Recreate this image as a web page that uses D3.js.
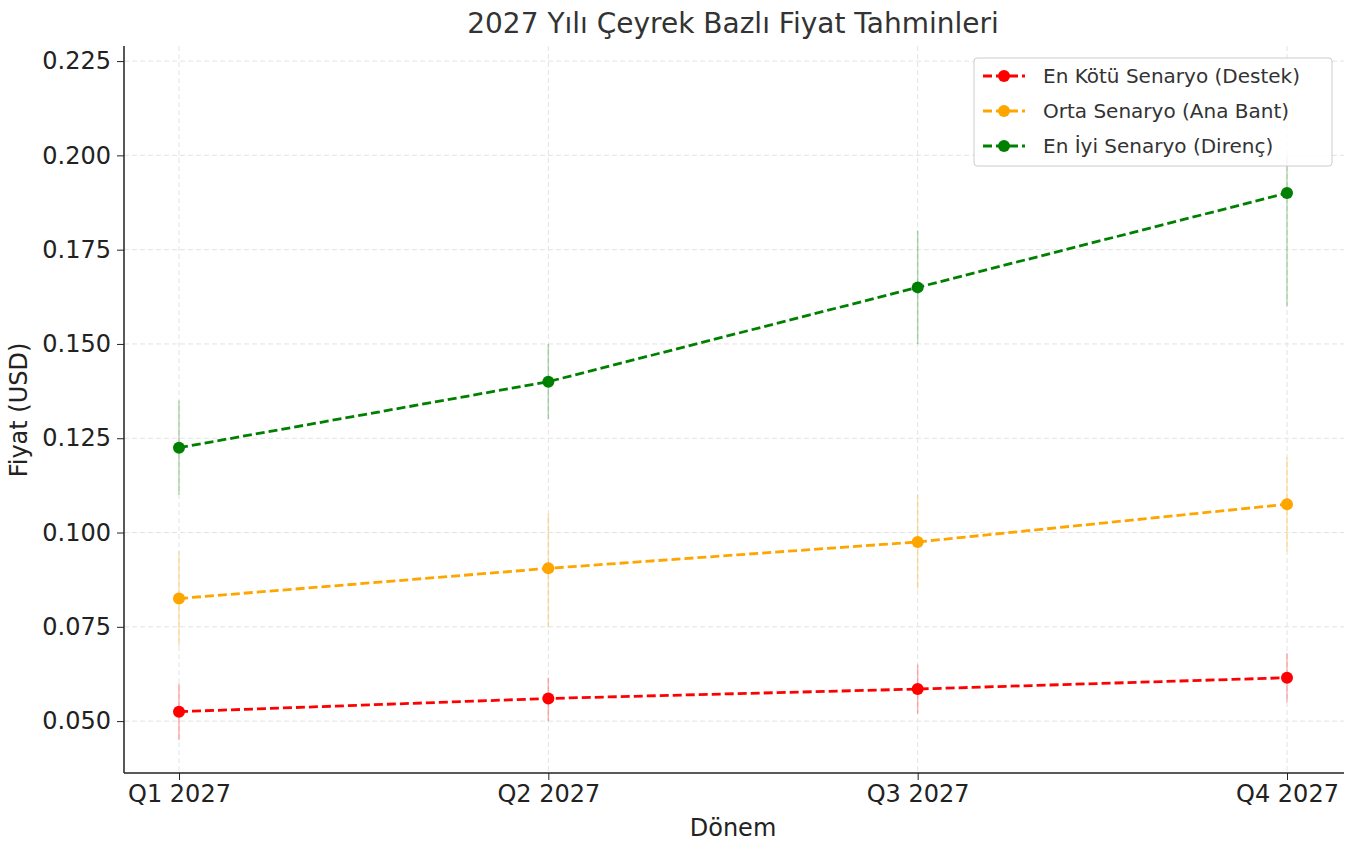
<!DOCTYPE html>
<html><head><meta charset="utf-8">
<script src="https://cdn.jsdelivr.net/npm/d3@7"></script>
<style>body{margin:0;background:#fff;font-family:"DejaVu Sans",sans-serif;}</style>
</head><body><div class="d3"></div>
<script>
var categories = ["Q1 2027", "Q2 2027", "Q3 2027", "Q4 2027"];
var seriesNames = ["En Kötü Senaryo (Destek)", "Orta Senaryo (Ana Bant)", "En İyi Senaryo (Direnç)"];
var seriesColors = ["#ff0000", "#ffa500", "#008000"];
var worstVals = [0.0525, 0.056, 0.0585, 0.0615];
var worstLow = [0.045, 0.050, 0.052, 0.055];
var worstHigh = [0.060, 0.0615, 0.065, 0.068];
var midVals = [0.0825, 0.0905, 0.0975, 0.1075];
var midLow = [0.070, 0.075, 0.085, 0.095];
var midHigh = [0.095, 0.105, 0.110, 0.120];
var bestVals = [0.1225, 0.140, 0.165, 0.190];
var bestLow = [0.110, 0.130, 0.150, 0.160];
var bestHigh = [0.135, 0.150, 0.180, 0.200];
var yTicks = [0.050, 0.075, 0.100, 0.125, 0.150, 0.175, 0.200, 0.225];

var series = [
  {vals: worstVals, lo: worstLow, hi: worstHigh},
  {vals: midVals, lo: midLow, hi: midHigh},
  {vals: bestVals, lo: bestLow, hi: bestHigh}
];

var margin = {top: 46, right: 11, bottom: 74, left: 124},
    width = 1355 - margin.left - margin.right,
    height = 847 - margin.top - margin.bottom;

var x = d3.scalePoint().domain(categories).range([55, 1163]);
var y = d3.scaleLinear().domain([0.03624, 0.2290]).range([height, 0]);

var svg = d3.select(".d3").append("svg")
    .attr("width", 1355).attr("height", 847);
var g = svg.append("g").attr("transform", "translate(" + margin.left + "," + margin.top + ")");

svg.append("text").attr("x", 733).attr("y", 33).attr("text-anchor", "middle")
    .attr("font-size", 28).attr("fill", "#333").text("2027 Yılı Çeyrek Bazlı Fiyat Tahminleri");

// grid
g.selectAll(".gy").data(yTicks).enter().append("line")
    .attr("x1", 0).attr("x2", width).attr("y1", d => y(d)).attr("y2", d => y(d))
    .attr("stroke", "#e3e3e3").attr("stroke-dasharray", "5,3");
g.selectAll(".gx").data(categories).enter().append("line")
    .attr("x1", d => x(d)).attr("x2", d => x(d)).attr("y1", 0).attr("y2", height)
    .attr("stroke", "#e3e3e3").attr("stroke-dasharray", "5,3");

var yAxis = g.append("g").call(d3.axisLeft(y).tickValues(yTicks).tickFormat(d3.format(".3f")).tickSize(7).tickPadding(6));
var xAxis = g.append("g").attr("transform", "translate(0," + height + ")")
    .call(d3.axisBottom(x).tickSize(7).tickPadding(5));
[xAxis, yAxis].forEach(function(a){
  a.selectAll("text").attr("font-size", 24).attr("fill", "#222").style("font-family", "DejaVu Sans");
  a.select(".domain").attr("stroke", "#222").attr("stroke-width", 1.5);
  a.selectAll(".tick line").attr("stroke", "#222");
});
// remove extra path end caps of domain
xAxis.select(".domain").attr("d", "M0,0H" + width);
yAxis.select(".domain").attr("d", "M0,0V" + height);

series.forEach(function(s, si){
  var c = seriesColors[si];
  g.selectAll(".eb" + si).data(categories).enter().append("line")
    .attr("x1", d => x(d)).attr("x2", d => x(d))
    .attr("y1", (d, i) => y(s.lo[i])).attr("y2", (d, i) => y(s.hi[i]))
    .attr("stroke", c).attr("stroke-opacity", 0.3).attr("stroke-width", 1.5);
  var line = d3.line().x((d, i) => x(categories[i])).y(d => y(d));
  g.append("path").attr("d", line(s.vals)).attr("fill", "none")
    .attr("stroke", c).attr("stroke-width", 2.8).attr("stroke-dasharray", "9,4");
  g.selectAll(".pt" + si).data(s.vals).enter().append("circle")
    .attr("cx", (d, i) => x(categories[i])).attr("cy", d => y(d)).attr("r", 6).attr("fill", c);
});

axisLabels();
function axisLabels(){
  svg.append("text").attr("x", 733).attr("y", 836).attr("text-anchor", "middle")
    .attr("font-size", 24).attr("fill", "#222").text("Dönem");
  svg.append("text").attr("transform", "translate(27,410) rotate(-90)").attr("text-anchor", "middle")
    .attr("font-size", 24).attr("fill", "#222").text("Fiyat (USD)");
}

// legend
var lg = svg.append("g").attr("transform", "translate(974,58)");
lg.append("rect").attr("width", 358).attr("height", 108).attr("rx", 3)
  .attr("fill", "#fff").attr("fill-opacity", 0.85).attr("stroke", "#ccc");
seriesNames.forEach(function(n, i){
  var yy = 18 + i * 35;
  lg.append("line").attr("x1", 9).attr("x2", 51).attr("y1", yy).attr("y2", yy)
    .attr("stroke", seriesColors[i]).attr("stroke-width", 2.8).attr("stroke-dasharray", "9,4");
  lg.append("circle").attr("cx", 30).attr("cy", yy).attr("r", 6).attr("fill", seriesColors[i]);
  lg.append("text").attr("x", 69).attr("y", yy + 7).attr("font-size", 20).attr("fill", "#333").text(n);
});
</script></body></html>
